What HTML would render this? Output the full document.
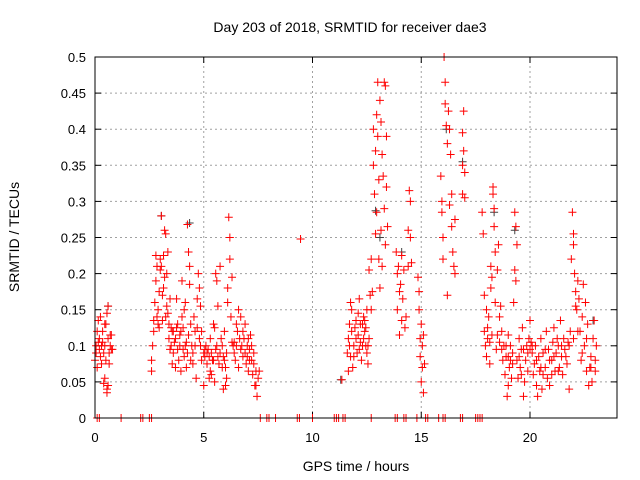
<!DOCTYPE html>
<html><head><meta charset="utf-8"><style>
body{margin:0;background:#fff}
svg{display:block;font-family:"Liberation Sans",sans-serif}
</style></head><body>
<svg id="chart" width="640" height="480" viewBox="0 0 640 480" xmlns="http://www.w3.org/2000/svg">
<rect width="640" height="480" fill="#fff"/>
<text x="350" y="32" font-size="14" text-anchor="middle">Day 203 of 2018, SRMTID for receiver dae3</text>
<text transform="translate(19,237) rotate(-90)" font-size="14" text-anchor="middle">SRMTID / TECUs</text>
<text x="356" y="471" font-size="14" text-anchor="middle">GPS time / hours</text>
<g id="grid"></g><g id="ticks"></g><g id="dark"></g><g id="red"></g>
<rect x="95" y="57" width="522" height="361" fill="none" stroke="#000" stroke-width="1"/>
</svg>
<script>
const xTicks=[0,5,10,15,20];
const yTicks=[0,0.05,0.1,0.15,0.2,0.25,0.3,0.35,0.4,0.45,0.5];
const yTickLabels=["0","0.05","0.1","0.15","0.2","0.25","0.3","0.35","0.4","0.45","0.5"];
const zeroHours=[0.1,0.2,1.2,2.1,2.2,2.5,2.6,7.6,7.9,8.0,8.3,9.3,9.4,10.0,11.0,11.1,11.2,11.4,11.5,12.7,13.8,13.9,14.2,14.3,14.8,15.2,15.3,15.8,16.0,16.1,16.8,16.9,17.5,17.6,17.7,17.8];
const redPoints=[[0.0,0.08],[0.05,0.1],[0.1,0.12],[0.1,0.07],[0.15,0.135],[0.2,0.095],[0.2,0.11],[0.25,0.085],[0.25,0.14],[0.3,0.1],[0.3,0.075],[0.35,0.105],[0.35,0.12],[0.4,0.09],[0.4,0.048],[0.45,0.1],[0.45,0.13],[0.5,0.08],[0.5,0.13],[0.55,0.04],[0.55,0.035],[0.55,0.145],[0.6,0.155],[0.6,0.11],[0.6,0.045],[0.65,0.09],[0.65,0.075],[0.7,0.115],[0.7,0.1],[0.75,0.115],[0.75,0.095],[0.8,0.095],[0.05,0.09],[0.15,0.105],[0.45,0.055],
[2.6,0.065],[2.6,0.08],[2.65,0.1],[2.7,0.135],[2.7,0.12],[2.75,0.16],[2.8,0.19],[2.8,0.225],[2.85,0.21],[2.9,0.15],[2.9,0.13],[2.95,0.175],[3.0,0.22],[3.0,0.205],[3.05,0.28],[3.1,0.17],[3.1,0.135],[3.15,0.225],[3.2,0.26],[3.2,0.195],[3.25,0.255],[3.3,0.2],[3.3,0.155],[3.35,0.23],[3.4,0.13],[3.45,0.165],[3.5,0.125],[3.5,0.1],[3.55,0.075],[3.6,0.09],[3.6,0.12],[3.7,0.11],[3.7,0.07],[3.75,0.165],[3.8,0.13],[3.85,0.08],[3.9,0.1],[3.95,0.12],[4.0,0.19],[4.0,0.14],[4.05,0.095],[4.1,0.15],[4.15,0.16],[4.2,0.07],[4.2,0.105],[4.25,0.268],[4.3,0.23],[4.35,0.185],[4.35,0.21],[4.4,0.13],[4.45,0.1],[4.5,0.09],[4.5,0.075],[4.55,0.14],[4.6,0.12],[4.65,0.055],[4.7,0.165],[4.75,0.2],[4.8,0.18],[4.8,0.11],[4.85,0.155],[4.9,0.12],[4.9,0.08],[3.35,0.145],[4.1,0.085],[3.95,0.065],
[2.85,0.14],[2.95,0.125],[3.05,0.21],[3.15,0.18],[3.25,0.14],[3.4,0.11],[3.65,0.105],[3.8,0.095],[3.9,0.115],[4.05,0.125],[4.15,0.1],[4.25,0.09],[4.3,0.115],[4.4,0.08],[4.6,0.1],[4.7,0.125],[4.85,0.1],[3.75,0.125],[3.55,0.12],[3.45,0.095],
[5.0,0.045],[5.0,0.09],[5.05,0.085],[5.1,0.1],[5.15,0.075],[5.2,0.095],[5.25,0.055],[5.3,0.11],[5.35,0.06],[5.4,0.08],[5.45,0.13],[5.5,0.05],[5.5,0.125],[5.55,0.2],[5.6,0.19],[5.6,0.1],[5.65,0.155],[5.7,0.075],[5.75,0.21],[5.8,0.11],[5.85,0.07],[5.9,0.04],[5.9,0.085],[5.95,0.12],[6.0,0.07],[6.05,0.055],[6.1,0.16],[6.1,0.18],[6.15,0.278],[6.2,0.25],[6.2,0.22],[6.25,0.14],[6.3,0.195],[6.3,0.105],[6.35,0.1],[6.4,0.09],[6.45,0.08],[6.5,0.13],[6.55,0.12],[6.6,0.15],[6.6,0.07],[6.7,0.14],[6.7,0.095],[6.8,0.085],[6.85,0.11],[6.9,0.13],[6.95,0.075],[7.0,0.1],[7.05,0.065],[7.1,0.095],[7.15,0.115],[7.2,0.08],[7.25,0.06],[7.3,0.075],[7.35,0.045],[7.4,0.045],[7.4,0.065],[7.45,0.03],[7.5,0.055],[7.55,0.065],[5.3,0.065],[6.0,0.045],
[5.05,0.095],[5.15,0.09],[5.25,0.085],[5.35,0.09],[5.45,0.08],[5.55,0.095],[5.65,0.085],[5.75,0.09],[5.85,0.1],[5.95,0.08],[6.05,0.09],[6.4,0.105],[6.5,0.1],[6.65,0.11],[6.75,0.1],[6.9,0.09],[7.0,0.085],[7.1,0.08],[7.2,0.1],[7.3,0.09],[6.8,0.12],[7.05,0.11],
[9.45,0.248],[11.35,0.053],
[11.6,0.09],[11.65,0.065],[11.65,0.11],[11.7,0.13],[11.75,0.16],[11.75,0.085],[11.8,0.15],[11.85,0.07],[11.9,0.1],[11.95,0.125],[12.0,0.11],[12.05,0.09],[12.1,0.145],[12.15,0.165],[12.2,0.105],[12.25,0.08],[12.3,0.13],[12.35,0.14],[12.4,0.12],[12.45,0.1],[12.5,0.15],[12.5,0.09],[12.55,0.075],[12.6,0.11],[12.65,0.17],[12.6,0.205],[12.7,0.22],[12.7,0.15],[12.75,0.175],[12.8,0.4],[12.8,0.35],[12.85,0.31],[12.9,0.37],[12.9,0.255],[12.95,0.42],[12.95,0.285],[13.0,0.465],[13.0,0.39],[13.05,0.33],[13.05,0.22],[13.1,0.44],[13.1,0.18],[13.15,0.41],[13.15,0.26],[13.2,0.365],[13.2,0.21],[13.25,0.335],[13.3,0.465],[13.3,0.29],[13.35,0.46],[13.35,0.24],[13.4,0.39],[13.4,0.32],[13.45,0.265],
[11.7,0.1],[11.8,0.12],[11.9,0.085],[12.0,0.135],[12.1,0.115],[12.2,0.13],[12.3,0.1],[12.4,0.135],[12.45,0.125],[12.55,0.1],[12.35,0.11],[12.15,0.095],
[13.85,0.23],[13.9,0.2],[13.9,0.15],[13.95,0.21],[14.0,0.175],[14.0,0.115],[14.05,0.185],[14.1,0.135],[14.1,0.225],[14.15,0.165],[14.2,0.205],[14.25,0.125],[14.3,0.14],[14.4,0.26],[14.4,0.21],[14.45,0.315],[14.5,0.3],[14.5,0.25],[14.55,0.215],
[14.85,0.195],[14.9,0.175],[14.9,0.15],[14.95,0.11],[14.95,0.085],[15.0,0.13],[15.0,0.05],[15.05,0.07],[15.05,0.1],[15.1,0.035],[15.1,0.115],[15.15,0.075],
[15.9,0.335],[15.95,0.285],[15.95,0.3],[16.0,0.25],[16.0,0.22],[16.05,0.5],[16.1,0.465],[16.1,0.435],[16.15,0.405],[16.2,0.17],[16.2,0.38],[16.25,0.425],[16.3,0.4],[16.3,0.295],[16.35,0.365],[16.4,0.31],[16.4,0.265],[16.45,0.23],[16.5,0.21],[16.55,0.2],[16.55,0.275],[16.95,0.425],[16.9,0.395],[16.95,0.37],[17.0,0.34],[16.9,0.31],[17.0,0.305],[16.9,0.35],
[17.8,0.285],[17.85,0.255],[17.9,0.17],[17.9,0.12],[17.95,0.1],[18.0,0.15],[18.0,0.085],[18.05,0.11],[18.1,0.14],[18.15,0.075],[18.2,0.18],[18.2,0.21],[18.25,0.195],[18.3,0.32],[18.3,0.31],[18.35,0.29],[18.35,0.265],[18.4,0.23],[18.4,0.16],[18.45,0.095],[18.5,0.205],[18.5,0.115],[18.55,0.24],[18.6,0.14],[18.65,0.155],[18.7,0.12],[18.75,0.08],[18.8,0.1],[18.85,0.06],[18.9,0.085],[18.95,0.03],[19.0,0.115],[19.0,0.045],[19.05,0.07],[19.1,0.1],[19.15,0.055],[19.2,0.09],[19.25,0.16],[19.3,0.205],[19.3,0.285],[19.35,0.265],[19.35,0.19],[19.4,0.24],[19.4,0.08],[19.45,0.055],[19.5,0.11],[19.55,0.07],[19.6,0.095],[19.65,0.125],[19.7,0.03],[19.75,0.05],[19.8,0.08],[19.85,0.1],[19.9,0.065],[19.95,0.11],[20.0,0.135],[20.05,0.105],[20.1,0.09],[20.15,0.06],[20.2,0.075],[20.25,0.1],[20.3,0.045],[20.35,0.03],[20.4,0.085],[20.45,0.065],[20.5,0.11],[20.55,0.04],[20.6,0.09],[20.7,0.07],[20.75,0.12],[20.8,0.055],[20.85,0.095],[20.9,0.045],[21.0,0.08],[21.05,0.105],[21.1,0.125],[21.15,0.065],[21.2,0.09],[21.3,0.1],[21.35,0.07],[21.4,0.135],[21.45,0.085],[21.5,0.06],[21.55,0.11],[21.6,0.095],[21.7,0.075],[21.75,0.105],[21.8,0.04],[21.85,0.12],[21.9,0.22],[21.95,0.285],[22.0,0.255],[22.0,0.24],[22.05,0.2],[22.1,0.175],[22.15,0.15],[22.2,0.19],[22.25,0.165],[22.3,0.12],[22.35,0.08],[22.4,0.14],[22.45,0.185],[22.5,0.1],[22.55,0.16],[22.6,0.065],[22.65,0.13],[22.7,0.045],[22.75,0.07],[22.8,0.085],[22.85,0.05],[22.9,0.11],[22.95,0.135],[23.0,0.065],[23.05,0.1],[22.1,0.155],[21.0,0.06],[20.0,0.095],[19.0,0.085],
[18.05,0.125],[18.15,0.105],[18.25,0.115],[18.6,0.105],[18.7,0.095],[18.9,0.1],[19.1,0.08],[19.2,0.075],[19.5,0.085],[19.7,0.095],[19.9,0.09],[20.1,0.1],[20.3,0.08],[20.5,0.07],[20.7,0.095],[20.9,0.08],[21.1,0.085],[21.25,0.11],[21.45,0.1],[21.65,0.085],[21.8,0.1],[22.0,0.11],[22.2,0.12],[22.4,0.09],[22.6,0.11],[22.8,0.07],[23.0,0.08],[20.6,0.06],[21.3,0.065],[19.6,0.06]];
const darkPoints=[[0.6,0.155],[3.05,0.28],[4.35,0.27],[12.9,0.287],[13.1,0.25],[16.15,0.4],[16.9,0.355],[18.35,0.285],[19.3,0.26],[22.9,0.135],[11.3,0.053],[14.1,0.23]];

const X0=95,X1=617,Y0=418,Y1=57,XMAX=24,YMAX=0.5;
function xs(h){return X0+(X1-X0)*h/XMAX;}
function ys(v){return Y0-(Y0-Y1)*v/YMAX;}
const NS="http://www.w3.org/2000/svg";
function mk(tag,attrs,parent){const e=document.createElementNS(NS,tag);for(const k in attrs)e.setAttribute(k,attrs[k]);parent.appendChild(e);return e;}
const grid=document.getElementById('grid'),ticks=document.getElementById('ticks');
yTicks.forEach((v,i)=>{
  const y=ys(v);
  if(v>0&&v<YMAX){const g=mk('line',{x1:X0,x2:X1,y1:y,y2:y,stroke:'#a0a0a0','stroke-dasharray':'2,3'},grid);
  
  }
  mk('line',{x1:X0,x2:X0+6,y1:y,y2:y,stroke:'#000'},ticks);
  mk('line',{x1:X1-6,x2:X1,y1:y,y2:y,stroke:'#000'},ticks);
  const t=mk('text',{x:X0-9,y:y+5,'font-size':13,'text-anchor':'end'},ticks);t.textContent=yTickLabels[i];
  
  
});
xTicks.forEach(h=>{
  const x=xs(h);
  if(h>0){const g=mk('line',{x1:x,x2:x,y1:Y0,y2:Y1,stroke:'#a0a0a0','stroke-dasharray':'2,3'},grid);
  
  }
  mk('line',{x1:x,x2:x,y1:Y0,y2:Y0-6,stroke:'#000'},ticks);
  mk('line',{x1:x,x2:x,y1:Y1,y2:Y1+6,stroke:'#000'},ticks);
  const t=mk('text',{x:x,y:Y0+24,'font-size':13,'text-anchor':'middle'},ticks);t.textContent=String(h);
  
  
});
function plus(h,v,color,parent){
  const x=xs(h),y=ys(v);
  return mk('path',{d:`M${x-4},${y}H${x+4}M${x},${y-4}V${y+4}`,stroke:color,'stroke-width':1,fill:'none'},parent);
}
const dark=document.getElementById('dark'),red=document.getElementById('red');
darkPoints.forEach(([h,v])=>{const p=plus(h,v,'#404040',dark);
  
  });
redPoints.forEach(([h,v])=>{const p=plus(h,v,'#ff0000',red);
  
  });
zeroHours.forEach(h=>{const p=plus(h,0,'#ff0000',red);
  
  });
</script>
</body></html>
